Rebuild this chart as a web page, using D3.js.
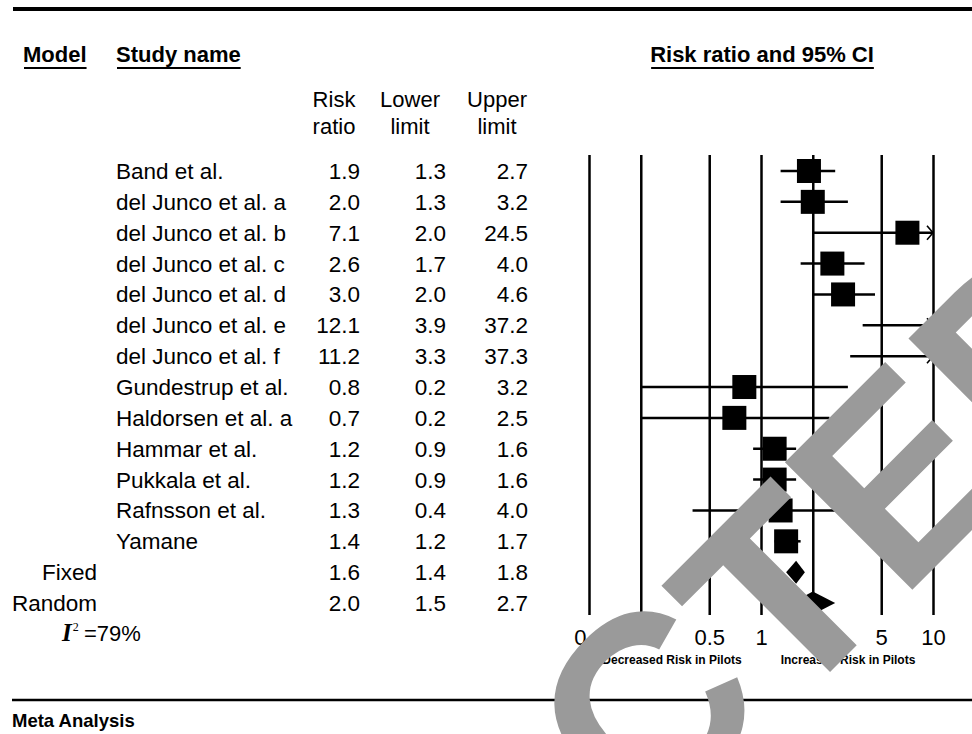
<!DOCTYPE html>
<html>
<head>
<meta charset="utf-8">
<script src="https://cdn.jsdelivr.net/npm/d3@7"></script>
<style>
body { margin: 0; background: #fff; }
svg { display: block; font-family: "Liberation Sans", Arial, sans-serif; }
</style>
</head>
<body>
<script>
"use strict";
const studyNames = ["Band et al.", "del Junco et al. a", "del Junco et al. b", "del Junco et al. c", "del Junco et al. d", "del Junco et al. e", "del Junco et al. f", "Gundestrup et al.", "Haldorsen et al. a", "Hammar et al.", "Pukkala et al.", "Rafnsson et al.", "Yamane"];
const riskRatio = [1.9, 2.0, 7.1, 2.6, 3.0, 12.1, 11.2, 0.8, 0.7, 1.2, 1.2, 1.3, 1.4];
const lowerLimit = [1.3, 1.3, 2.0, 1.7, 2.0, 3.9, 3.3, 0.2, 0.2, 0.9, 0.9, 0.4, 1.2];
const upperLimit = [2.7, 3.2, 24.5, 4.0, 4.6, 37.2, 37.3, 3.2, 2.5, 1.6, 1.6, 4.0, 1.7];
const modelNames = ["Fixed", "Random"];
const modelRatio = [1.6, 2.0];
const modelLower = [1.4, 1.5];
const modelUpper = [1.8, 2.7];
const tickValues = [0.1, 0.2, 0.5, 1, 2, 5, 10];
const tickLabels = ["0.1", "0.2", "0.5", "1", "2", "5", "10"];

function app() {
	const w = 972;
	const h = 734;
	const fmt = d3.format(".1f");
	const svg = d3.select("body").append("svg").attr("width", w).attr("height", h);
	svg.append("rect").attr("width", w).attr("height", h).attr("fill", "#fff");

	const xScale = d3.scaleLog().domain([0.1, 10]).range([589, 933]);
	const nRows = studyNames.length + modelNames.length;
	const yScale = d3.scaleLinear().domain([0, nRows - 1]).range([171, 171 + (nRows - 1) * 30.86]);
	const top = 155, bottom = 615;

	// frame rules
	svg.append("line").attr("x1", 13).attr("x2", w).attr("y1", 9).attr("y2", 9).attr("stroke", "#000").attr("stroke-width", 4);
	svg.append("line").attr("x1", 12).attr("x2", w).attr("y1", 700).attr("y2", 700).attr("stroke", "#000").attr("stroke-width", 2.5);

	// underlined headers
	function header(x, label, anchor) {
		const t = svg.append("text").attr("x", x).attr("y", 62).attr("font-size", 22).attr("font-weight", "bold").attr("text-anchor", anchor).text(label);
		const b = t.node().getBBox();
		svg.append("line").attr("x1", b.x + 1).attr("x2", b.x + b.width).attr("y1", 68).attr("y2", 68).attr("stroke", "#000").attr("stroke-width", 2);
	}
	header(23, "Model", "start");
	header(116, "Study name", "start");
	header(762, "Risk ratio and 95% CI", "middle");

	const colHeads = [["Risk", "ratio", 334], ["Lower", "limit", 410], ["Upper", "limit", 497]];
	colHeads.forEach(c => {
		svg.append("text").attr("x", c[2]).attr("y", 107).attr("font-size", 22).attr("text-anchor", "middle").text(c[0]);
		svg.append("text").attr("x", c[2]).attr("y", 134).attr("font-size", 22).attr("text-anchor", "middle").text(c[1]);
	});

	// axis with full-height grid lines
	const xAxis = d3.axisBottom(xScale).tickValues(tickValues)
		.tickFormat(d => tickLabels[tickValues.indexOf(d)])
		.tickSizeInner(-(bottom - top)).tickSizeOuter(0).tickPadding(14);
	const gx = svg.append("g").attr("transform", "translate(0," + bottom + ")").call(xAxis);
	gx.attr("font-family", null).attr("font-size", null);
	gx.select(".domain").remove();
	gx.selectAll("line").attr("stroke", "#000").attr("stroke-width", 2.5);
	gx.selectAll("text").attr("font-size", 22).attr("fill", "#000");

	const numCols = [360, 446, 528];
	const fs = 22.5;

	// studies
	studyNames.forEach((name, i) => {
		const y = yScale(i);
		svg.append("text").attr("x", 116).attr("y", y + 8).attr("font-size", fs).text(name);
		[riskRatio[i], lowerLimit[i], upperLimit[i]].forEach((v, j) => {
			svg.append("text").attr("x", numCols[j]).attr("y", y + 8).attr("font-size", fs).attr("text-anchor", "end").text(fmt(v));
		});
		const lo = Math.max(lowerLimit[i], 0.1);
		const hi = Math.min(upperLimit[i], 10);
		svg.append("line").attr("x1", xScale(lo)).attr("x2", xScale(hi)).attr("y1", y).attr("y2", y).attr("stroke", "#000").attr("stroke-width", 2.5);
		if (upperLimit[i] > 10) {
			const xa = xScale(10);
			svg.append("path").attr("d", `M${xa - 6},${y - 7}L${xa},${y}L${xa - 6},${y + 7}`).attr("fill", "none").attr("stroke", "#000").attr("stroke-width", 1.6);
		}
		if (riskRatio[i] >= 0.1 && riskRatio[i] <= 10) {
			svg.append("rect").attr("x", xScale(riskRatio[i]) - 12).attr("y", y - 12).attr("width", 24).attr("height", 24).attr("fill", "#000");
		}
	});

	// summary rows
	modelNames.forEach((name, k) => {
		const i = studyNames.length + k;
		const y = yScale(i);
		svg.append("text").attr("x", 97).attr("y", y + 8).attr("font-size", fs).attr("text-anchor", "end").text(name);
		[modelRatio[k], modelLower[k], modelUpper[k]].forEach((v, j) => {
			svg.append("text").attr("x", numCols[j]).attr("y", y + 8).attr("font-size", fs).attr("text-anchor", "end").text(fmt(v));
		});
		const xm = xScale(modelRatio[k]), xl = xScale(modelLower[k]), xu = xScale(modelUpper[k]);
		svg.append("path").attr("d", `M${xl},${y}L${xm},${y - 11.5}L${xu},${y}L${xm},${y + 11.5}Z`).attr("fill", "#000");
	});

	// heterogeneity
	const i2 = svg.append("text").attr("x", 62).attr("y", 641).attr("font-size", 22);
	i2.append("tspan").attr("font-family", "'Liberation Serif', 'Times New Roman', serif").attr("font-style", "italic").attr("font-weight", "bold").attr("font-size", 25).text("I");
	i2.append("tspan").attr("font-family", "'Liberation Serif', 'Times New Roman', serif").attr("font-size", 12).attr("dx", 1).attr("dy", -10).text("2");
	i2.append("tspan").attr("x", 84).attr("dy", 10).text("=79%");

	// direction labels
	svg.append("text").attr("x", 672).attr("y", 664).attr("font-size", 12).attr("font-weight", "bold").attr("text-anchor", "middle").text("Decreased Risk in Pilots");
	svg.append("text").attr("x", 848).attr("y", 664).attr("font-size", 12).attr("font-weight", "bold").attr("text-anchor", "middle").text("Increased Risk in Pilots");

	svg.append("text").attr("x", 12).attr("y", 727).attr("font-size", 18.5).attr("font-weight", "bold").text("Meta Analysis");

	// watermark
	const wm = svg.append("text").attr("transform", "translate(653,849) rotate(-45)")
		.attr("font-size", 262).attr("font-weight", "bold").attr("fill", "#9a9a9a");
	wm.append("tspan").attr("dx", -1).attr("dy", -13).text("C");
	wm.append("tspan").attr("dx", 1).attr("dy", 13).text("TED");
}

app();
</script>
</body>
</html>
